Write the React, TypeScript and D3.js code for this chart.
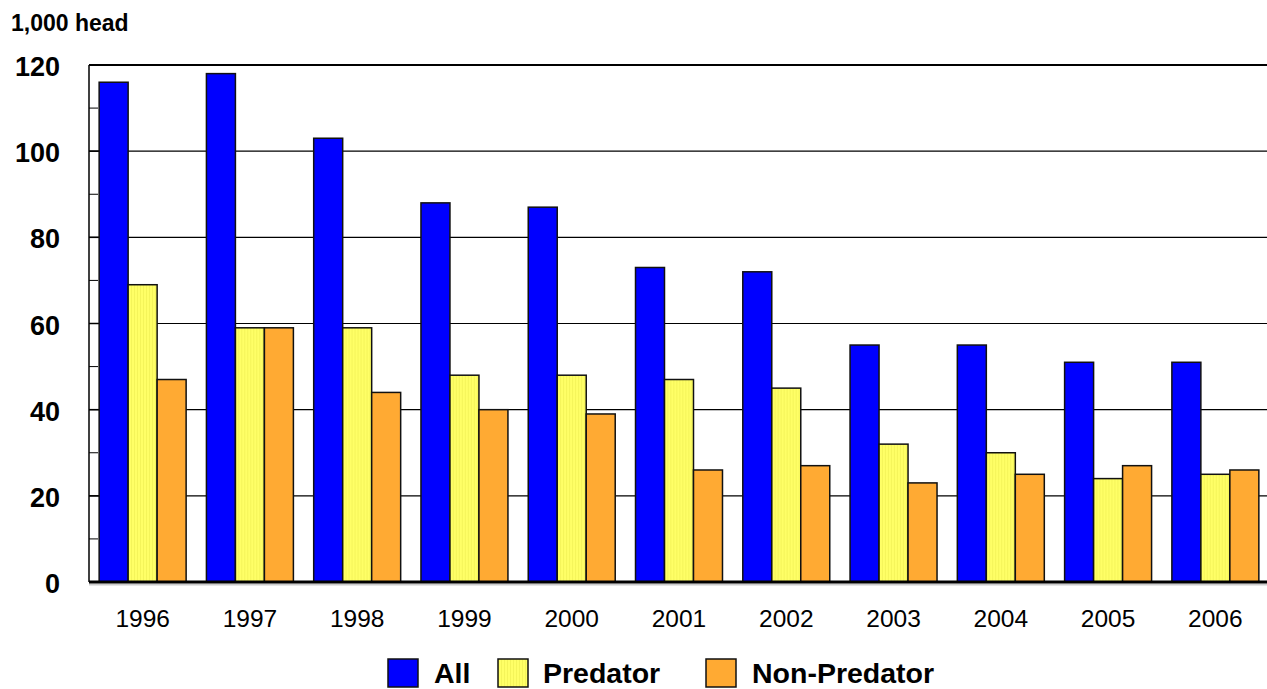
import { useEffect, useRef } from 'react';
import * as d3 from 'd3';

const years = ['1996', '1997', '1998', '1999', '2000', '2001', '2002', '2003', '2004', '2005', '2006'];
const allValues = [116, 118, 103, 88, 87, 73, 72, 55, 55, 51, 51];
const predatorValues = [69, 59, 59, 48, 48, 47, 45, 32, 30, 24, 25];
const nonPredatorValues = [47, 59, 44, 40, 39, 26, 27, 23, 25, 27, 26];
const seriesNames = ['All', 'Predator', 'Non-Predator'];
const seriesColors = ['#0000ff', '#ffff66', '#ffaa33'];
const yTicks = [0, 20, 40, 60, 80, 100, 120];
const minorTicks = [10, 30, 50, 70, 90, 110];

const App = () => {
  const ref = useRef<SVGSVGElement>(null!);

  useEffect(() => {
    const width = 1267;
    const height = 689;
    const left = 89;
    const right = 1269;
    const top = 65;
    const bottom = 582;
    const font = 'Liberation Sans, Arial, sans-serif';

    const svg = d3.select(ref.current);
    svg.selectAll('*').remove();
    svg.attr('width', width).attr('height', height);

    const defs = svg.append('defs');
    const pat = defs
      .append('pattern')
      .attr('id', 'stripes')
      .attr('patternUnits', 'userSpaceOnUse')
      .attr('width', 3)
      .attr('height', 3);
    pat.append('rect').attr('width', 3).attr('height', 3).attr('fill', '#ffff66');
    pat.append('rect').attr('width', 1).attr('height', 3).attr('fill', '#f4f45a');

    const x0 = d3.scaleBand<string>().domain(years).range([left, right]).padding(0);
    const x1 = d3
      .scaleBand<string>()
      .domain(seriesNames)
      .range([0, x0.bandwidth()])
      .paddingInner(0)
      .paddingOuter(0.35);
    const y = d3.scaleLinear().domain([0, 120]).range([bottom, top]);

    // gridlines
    svg
      .append('g')
      .selectAll('line')
      .data(yTicks.filter(d => d > 0))
      .enter()
      .append('line')
      .attr('x1', left)
      .attr('x2', width)
      .attr('y1', d => y(d))
      .attr('y2', d => y(d))
      .attr('stroke', '#000')
      .attr('stroke-width', d => (d === 120 ? 2 : 1.2));

    // y axis line and ticks
    svg
      .append('line')
      .attr('x1', left)
      .attr('x2', left)
      .attr('y1', top)
      .attr('y2', bottom)
      .attr('stroke', '#000')
      .attr('stroke-width', 1.5);
    svg
      .append('g')
      .selectAll('line')
      .data(yTicks)
      .enter()
      .append('line')
      .attr('x1', left)
      .attr('x2', left + 16)
      .attr('y1', d => y(d))
      .attr('y2', d => y(d))
      .attr('stroke', '#000')
      .attr('stroke-width', 1.5);
    svg
      .append('g')
      .selectAll('line')
      .data(minorTicks)
      .enter()
      .append('line')
      .attr('x1', left)
      .attr('x2', left + 9)
      .attr('y1', d => y(d))
      .attr('y2', d => y(d))
      .attr('stroke', '#000')
      .attr('stroke-width', 1);

    const data = years.map((yr, i) => ({
      year: yr,
      values: [allValues[i], predatorValues[i], nonPredatorValues[i]],
    }));

    const groups = svg
      .append('g')
      .selectAll('g')
      .data(data)
      .enter()
      .append('g')
      .attr('transform', d => `translate(${x0(d.year)},0)`);

    groups
      .selectAll('rect')
      .data(d => d.values.map((v, j) => ({ name: seriesNames[j], value: v, j })))
      .enter()
      .append('rect')
      .attr('x', d => x1(d.name) ?? 0)
      .attr('y', d => y(d.value))
      .attr('width', x1.bandwidth())
      .attr('height', d => y(0) - y(d.value))
      .attr('fill', d => (d.j === 1 ? 'url(#stripes)' : seriesColors[d.j]))
      .attr('stroke', '#111')
      .attr('stroke-width', 1.5);

    // baseline
    svg
      .append('line')
      .attr('x1', left)
      .attr('x2', width)
      .attr('y1', bottom + 2.5)
      .attr('y2', bottom + 2.5)
      .attr('stroke', '#ccc')
      .attr('stroke-width', 2);
    svg
      .append('line')
      .attr('x1', left)
      .attr('x2', width)
      .attr('y1', bottom)
      .attr('y2', bottom)
      .attr('stroke', '#000')
      .attr('stroke-width', 3);

    // y labels
    svg
      .append('g')
      .selectAll('text')
      .data(yTicks)
      .enter()
      .append('text')
      .attr('x', 60)
      .attr('y', d => y(d) + 11)
      .attr('text-anchor', 'end')
      .attr('font-family', font)
      .attr('font-weight', 'bold')
      .attr('font-size', 27)
      .text(d => d);

    svg
      .append('text')
      .attr('x', 11)
      .attr('y', 31)
      .attr('font-family', font)
      .attr('font-weight', 'bold')
      .attr('font-size', 23)
      .text('1,000 head');

    // x labels
    svg
      .append('g')
      .selectAll('text')
      .data(years)
      .enter()
      .append('text')
      .attr('x', d => (x0(d) ?? 0) + x0.bandwidth() / 2)
      .attr('y', 627)
      .attr('text-anchor', 'middle')
      .attr('font-family', font)
      .attr('font-size', 24.5)
      .text(d => d);

    // legend
    const legendItems = [
      { name: 'All', sx: 388, tx: 434 },
      { name: 'Predator', sx: 498, tx: 543 },
      { name: 'Non-Predator', sx: 706, tx: 752 },
    ];
    const lg = svg.append('g');
    legendItems.forEach((it, j) => {
      lg.append('rect')
        .attr('x', it.sx)
        .attr('y', 659)
        .attr('width', 30)
        .attr('height', 28)
        .attr('fill', j === 1 ? 'url(#stripes)' : seriesColors[j])
        .attr('stroke', '#111')
        .attr('stroke-width', 1.5);
      lg.append('text')
        .attr('x', it.tx)
        .attr('y', 683)
        .attr('font-family', font)
        .attr('font-weight', 'bold')
        .attr('font-size', 28.5)
        .text(it.name);
    });
  }, []);

  return <svg ref={ref} style={{ position: 'absolute', left: 0, top: 0 }}></svg>;
};

export default App;
